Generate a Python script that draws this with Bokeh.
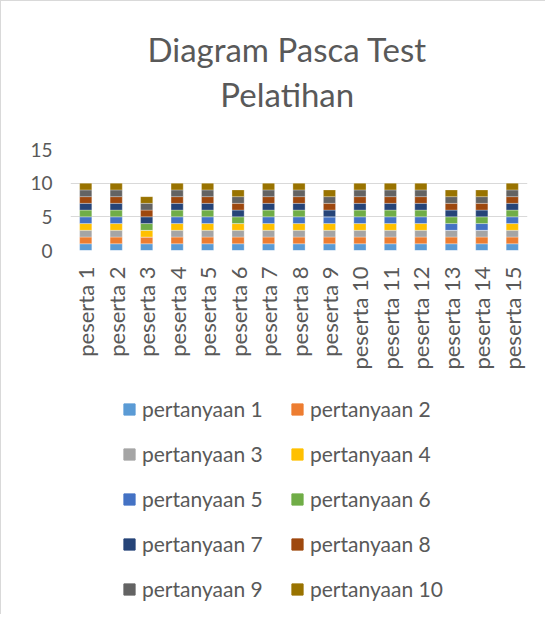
from bokeh.plotting import figure
from bokeh.models import FactorRange, Legend, LegendItem, Label, FixedTicker, Range1d
from bokeh.layouts import column
from bokeh.embed import file_html
from bokeh.resources import INLINE
import math

peserta = [f"peserta {i}" for i in range(1, 16)]
questions = [f"pertanyaan {i}" for i in range(1, 11)]
title_lines = ["Diagram Pasca Test", "Pelatihan"]

q1 = [1, 1, 1, 1, 1, 1, 1, 1, 1, 1, 1, 1, 1, 1, 1]
q2 = [1, 1, 1, 1, 1, 1, 1, 1, 1, 1, 1, 1, 1, 1, 1]
q3 = [1, 1, 0, 1, 1, 1, 1, 1, 1, 1, 1, 1, 1, 1, 1]
q4 = [1, 1, 1, 1, 1, 1, 1, 1, 1, 1, 1, 1, 0, 0, 1]
q5 = [1, 1, 0, 1, 1, 0, 1, 1, 1, 1, 1, 1, 1, 1, 1]
q6 = [1, 1, 1, 1, 1, 1, 1, 1, 0, 1, 1, 1, 1, 1, 1]
q7 = [1, 1, 1, 1, 1, 1, 1, 1, 1, 1, 1, 1, 1, 1, 1]
q8 = [1, 1, 1, 1, 1, 1, 1, 1, 1, 1, 1, 1, 1, 1, 1]
q9 = [1, 1, 1, 1, 1, 1, 1, 1, 1, 1, 1, 1, 1, 1, 1]
q10 = [1, 1, 1, 1, 1, 1, 1, 1, 1, 1, 1, 1, 1, 1, 1]

y_ticks = [0, 5, 10, 15]

colors = ["#5B9BD5", "#ED7D31", "#A5A5A5", "#FFC000", "#4472C4",
          "#70AD47", "#264478", "#9E480E", "#636363", "#997300"]

data = {"peserta": peserta}
for name, vals in zip(questions, [q1, q2, q3, q4, q5, q6, q7, q8, q9, q10]):
    data[name] = vals

FONT = "Lato"
TXT = "#595959"
W = 544

# --- title block ---
TH = 135
pt = figure(width=W, height=TH, x_range=Range1d(0, W), y_range=Range1d(0, TH),
            x_axis_location=None, y_axis_location=None,
            output_backend="svg", toolbar_location=None, min_border=0)
pt.grid.visible = False
pt.outline_line_color = None
pt.add_layout(Label(x=258, y=TH - 47, text=title_lines[0], text_align="center",
                    text_baseline="middle", text_font=FONT, text_font_size="33px",
                    text_color=TXT))
pt.add_layout(Label(x=258, y=TH - 92, text=title_lines[1], text_align="center",
                    text_baseline="middle", text_font=FONT, text_font_size="33px",
                    text_color=TXT))

# --- chart ---
p = figure(x_range=FactorRange(*peserta), y_range=(0, 15),
           width=W, height=253,
           output_backend="svg", toolbar_location=None,
           min_border_left=69, min_border_right=18, min_border_top=13,
           min_border_bottom=139)

renderers = p.vbar_stack(questions, x="peserta", width=0.4, color=colors,
                         line_color="white", line_width=0.3, source=data)

p.yaxis.ticker = FixedTicker(ticks=y_ticks)
p.yaxis.axis_line_color = None
p.yaxis.major_tick_line_color = None
p.yaxis.minor_tick_line_color = None
p.yaxis.major_label_text_font = FONT
p.yaxis.major_label_text_font_size = "19px"
p.yaxis.major_label_text_color = TXT
p.yaxis.major_label_standoff = 12

p.xaxis.axis_line_color = None
p.xaxis.major_tick_line_color = None
p.xaxis.minor_tick_line_color = None
p.xaxis.major_label_orientation = math.pi / 2
p.xaxis.major_label_text_font = FONT
p.xaxis.major_label_text_font_size = "22px"
p.xaxis.major_label_text_color = TXT
p.xaxis.major_label_standoff = 10

p.xgrid.grid_line_color = None
p.ygrid.grid_line_color = "#D9D9D9"
p.ygrid.grid_line_width = 1
p.outline_line_color = None

# --- legend block (own renderers, kept outside the visible range) ---
LH = 225
pl = figure(width=W, height=LH, x_range=FactorRange(*peserta),
            y_range=Range1d(100, 101), x_axis_location=None, y_axis_location=None,
            output_backend="svg", toolbar_location=None, min_border=0)
pl.grid.visible = False
pl.outline_line_color = None
lrend = pl.vbar_stack(questions, x="peserta", width=0.4, color=colors, source=data)

order = [0, 2, 4, 6, 8, 1, 3, 5, 7, 9]
items = [LegendItem(label=questions[i], renderers=[lrend[i]]) for i in order]
legend = Legend(items=items, orientation="vertical", nrows=5,
                label_text_font=FONT, label_text_font_size="21px",
                label_text_color=TXT, glyph_width=14, glyph_height=14,
                label_height=20, label_width=128, spacing=20, label_standoff=6,
                border_line_color=None, background_fill_alpha=0,
                margin=0, padding=5, location=(52, 13))
pl.add_layout(legend, "center")

layout = column(pt, p, pl, spacing=0)
layout.styles = {"border-left": "1px solid #D9D9D9", "border-top": "1px solid #D9D9D9"}

open("out.html", "w").write(file_html(layout, INLINE))
